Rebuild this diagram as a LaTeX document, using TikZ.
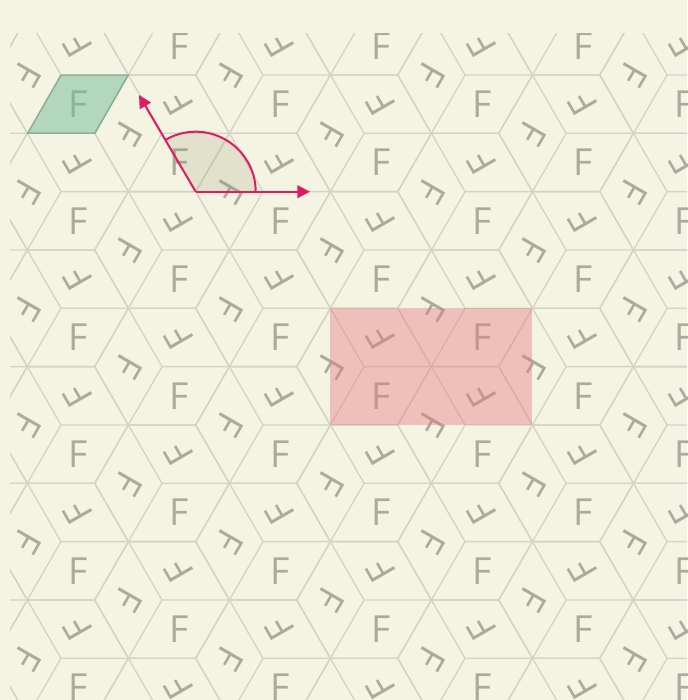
\documentclass[tikz,border=0pt]{standalone}
\usepackage{fontspec}
\setsansfont{Open Sans}
\usetikzlibrary{arrows.meta}

\definecolor{cream}{RGB}{245,244,226}
\definecolor{tileline}{RGB}{211,212,196}
\definecolor{fgray}{RGB}{170,171,154}
\definecolor{cellgreen}{RGB}{113,188,150}
\definecolor{cellred}{RGB}{232,116,128}
\definecolor{vecpink}{RGB}{224,27,100}

\tikzset{every picture/.style={line width=0.75pt}}
\tikzset{
  rhombedge/.style={draw=tileline,line width=1pt,line join=round},
  fglyph/.style={text=fgray,inner sep=0pt,font=\sffamily\fontsize{28}{28}\selectfont},
  vecline/.style={draw=vecpink,line width=1.5pt,-{Triangle[length=9.5pt,width=9.5pt]}},
}

\begin{document}
\begin{tikzpicture}[x=0.75pt,y=0.75pt,yscale=-1,xscale=1]
%Background
\path[fill=cream] (0,0) rectangle (687,700);

%Tiling: hexagons of side 67.35 cut into three rhombi, one F in each
\begin{scope}
\clip (10,33) rectangle (687,700);
\foreach \i in {-1,...,7}{
  \foreach \j in {-6,...,7}{
    \pgfmathsetmacro\cx{61+101.02*\i}
    \pgfmathsetmacro\cy{75+58.33*\i+116.66*\j}
    \begin{scope}[shift={(\cx,\cy)}]
      \draw[rhombedge] (67.35,0) -- (33.68,-58.33) -- (-33.68,-58.33) -- (-67.35,0) -- (-33.68,58.33) -- (33.68,58.33) -- cycle;
      \draw[rhombedge] (-33.68,-58.33) -- (0,0) -- (67.35,0);
      \draw[rhombedge] (0,0) -- (-33.68,58.33);
      % Text Node
      \node[fglyph] (f\i\j a) at (16.84,29.17) {F};
      \node[fglyph,rotate=120] (f\i\j b) at (16.84,-29.17) {F};
      \node[fglyph,rotate=240] (f\i\j c) at (-33.68,0) {F};
    \end{scope}
  }
}
\end{scope}

%Shape: Rhombus (green cell)
\draw[draw=cellgreen!70!black,draw opacity=0.45,fill=cellgreen,fill opacity=0.5,line width=1pt] (61,75) -- (128.35,75) -- (95.03,133.33) -- (27.68,133.33) -- cycle;

%Shape: Rectangle (red block)
\fill[cellred,fill opacity=0.4] (330.4,308.3) rectangle (532.4,425);

%Sector between the two vectors
\coordinate (O) at (195.7,191.7);
\fill[fill={rgb,255:red,150;green,150;blue,120},fill opacity=0.2] (O) -- ++(60,0) arc[start angle=0,end angle=-120,radius=60] -- cycle;
\draw[vecpink,line width=1.5pt] (O) ++(60,0) arc[start angle=0,end angle=-120,radius=60];

%Vectors
\coordinate (tipA) at (310,191.7);
\coordinate (tipB) at (139,95);
\draw[vecline] (O) -- (tipA);
\draw[vecline] (O) -- (tipB);

\end{tikzpicture}
\end{document}
